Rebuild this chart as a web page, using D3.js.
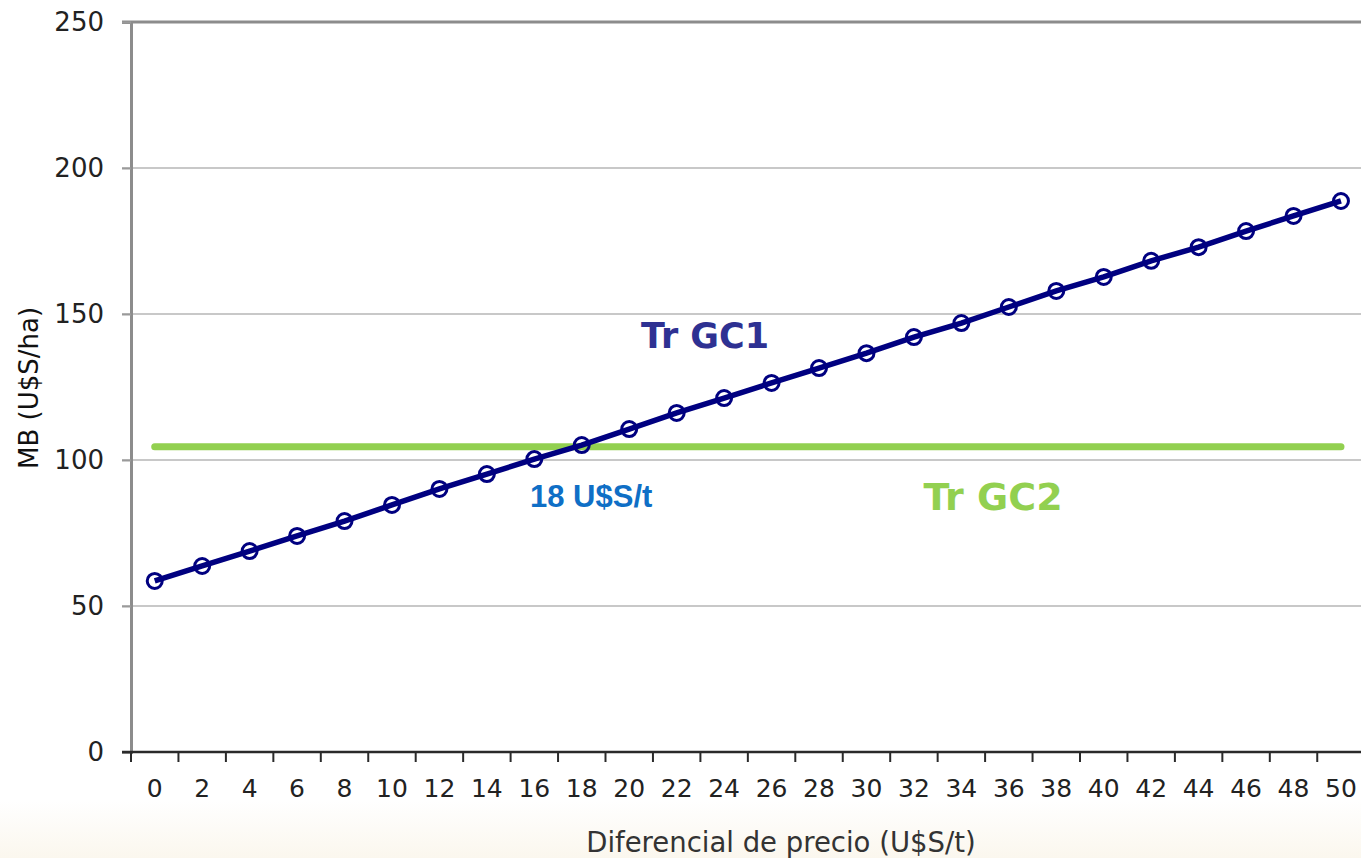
<!DOCTYPE html>
<html>
<head>
<meta charset="utf-8">
<script src="https://cdn.jsdelivr.net/npm/d3@7"></script>
<style>
  html, body { margin: 0; padding: 0; background: #ffffff; }
  svg { display: block; }
</style>
</head>
<body>
<svg id="chart" width="1361" height="858"></svg>
<script>
// Price differential categories (U$S/t)
const categories = [0, 2, 4, 6, 8, 10, 12, 14, 16, 18, 20, 22, 24, 26, 28, 30, 32, 34, 36, 38, 40, 42, 44, 46, 48, 50];
// Gross margin of Tr GC1 (U$S/ha) at each price differential
const gc1Values = [58.6, 63.7, 68.8, 74.0, 79.1, 84.6, 90.1, 95.2, 100.3, 105.1, 110.6, 116.1, 121.2, 126.4, 131.5, 136.6, 142.1, 146.9, 152.4, 157.9, 162.7, 168.2, 172.9, 178.4, 183.6, 188.7];
// Gross margin of Tr GC2 (U$S/ha), constant across differentials
const gc2Value = 104.5;
const yTicks = [0, 50, 100, 150, 200, 250];
const breakEvenLabel = "18 U$S/t";

const svg = d3.select("#chart");

// faint cream band at the foot of the image
const defs = svg.append("defs");
const grad = defs.append("linearGradient").attr("id", "foot").attr("x1", 0).attr("y1", 0).attr("x2", 0).attr("y2", 1);
grad.append("stop").attr("offset", "0%").attr("stop-color", "#ffffff");
grad.append("stop").attr("offset", "100%").attr("stop-color", "#fbf7ee");
svg.append("rect").attr("x", 0).attr("y", 800).attr("width", 1361).attr("height", 58).attr("fill", "url(#foot)");

const plotLeft = 131, plotTop = 22, plotBottom = 752, plotRight = 131 + 26 * 47.45;

const x = d3.scaleBand().domain(categories).range([plotLeft, plotRight]).padding(0);
const y = d3.scaleLinear().domain([0, 250]).range([plotBottom, plotTop]);

// horizontal gridlines
svg.append("g")
  .selectAll("line")
  .data(yTicks.filter(d => d > 0 && d < 250))
  .join("line")
  .attr("x1", plotLeft - 9).attr("x2", 1361)
  .attr("y1", d => y(d)).attr("y2", d => y(d))
  .attr("stroke", "#c8c8c8").attr("stroke-width", 2);

// top border line at 250
svg.append("line")
  .attr("x1", plotLeft - 9).attr("x2", 1361)
  .attr("y1", y(250)).attr("y2", y(250))
  .attr("stroke", "#8c8c8c").attr("stroke-width", 3);

// y axis
const yAxis = svg.append("g")
  .attr("transform", `translate(${plotLeft},0)`)
  .call(d3.axisLeft(y).tickValues(yTicks).tickSize(9).tickPadding(18));
yAxis.select(".domain").attr("stroke", "#8c8c8c").attr("stroke-width", 3);
yAxis.selectAll(".tick line").attr("stroke", "#9a9a9a").attr("stroke-width", 2);
yAxis.selectAll(".tick text")
  .attr("font-family", "DejaVu Sans, Verdana, sans-serif")
  .attr("font-size", 26).attr("fill", "#222");

// x axis: ticks at category boundaries, labels centred in each band
const xAxisG = svg.append("g").attr("transform", `translate(0,${plotBottom})`);
xAxisG.append("line")
  .attr("x1", plotLeft - 9).attr("x2", 1361)
  .attr("y1", 0).attr("y2", 0)
  .attr("stroke", "#2a2a2a").attr("stroke-width", 2.5);
xAxisG.selectAll(".btick")
  .data(categories)
  .join("line")
  .attr("class", "btick")
  .attr("x1", d => x(d)).attr("x2", d => x(d))
  .attr("y1", 0).attr("y2", 10)
  .attr("stroke", "#2a2a2a").attr("stroke-width", 2);
xAxisG.selectAll(".blabel")
  .data(categories)
  .join("text")
  .attr("class", "blabel")
  .attr("x", d => x(d) + x.bandwidth() / 2)
  .attr("y", 45)
  .attr("text-anchor", "middle")
  .attr("font-family", "DejaVu Sans, Verdana, sans-serif")
  .attr("font-size", 25).attr("fill", "#222")
  .text(d => d);

// axis titles
svg.append("text")
  .attr("x", 781).attr("y", 852)
  .attr("text-anchor", "middle")
  .attr("font-family", "DejaVu Sans, Verdana, sans-serif")
  .attr("font-size", 27.5).attr("fill", "#333")
  .text("Diferencial de precio (U$S/t)");

svg.append("text")
  .attr("transform", "translate(38,388) rotate(-90)")
  .attr("text-anchor", "middle")
  .attr("font-family", "DejaVu Sans, Verdana, sans-serif")
  .attr("font-size", 26).attr("fill", "#111")
  .text("MB (U$S/ha)");

const cx = d => x(d) + x.bandwidth() / 2;

// Tr GC2 flat line
svg.append("line")
  .attr("x1", cx(categories[0])).attr("x2", cx(categories[categories.length - 1]))
  .attr("y1", y(gc2Value)).attr("y2", y(gc2Value))
  .attr("stroke", "#92d050").attr("stroke-width", 7).attr("stroke-linecap", "round");

// Tr GC1 line with hollow circle markers
const gc1 = categories.map((c, i) => ({ c, v: gc1Values[i] }));
svg.append("path")
  .datum(gc1)
  .attr("d", d3.line().x(d => cx(d.c)).y(d => y(d.v)))
  .attr("fill", "none").attr("stroke", "#000080").attr("stroke-width", 5.5);
svg.append("g")
  .selectAll("circle")
  .data(gc1)
  .join("circle")
  .attr("cx", d => cx(d.c)).attr("cy", d => y(d.v))
  .attr("r", 7.5)
  .attr("fill", "none").attr("stroke", "#000080").attr("stroke-width", 3);

// series labels
svg.append("text")
  .attr("x", 705).attr("y", 348)
  .attr("text-anchor", "middle")
  .attr("font-family", "DejaVu Sans, Verdana, sans-serif")
  .attr("font-weight", "bold").attr("font-size", 35).attr("fill", "#2e3192")
  .text("Tr GC1");

svg.append("text")
  .attr("x", 993).attr("y", 510)
  .attr("text-anchor", "middle")
  .attr("font-family", "DejaVu Sans, Verdana, sans-serif")
  .attr("font-weight", "bold").attr("font-size", 38).attr("fill", "#92d050")
  .text("Tr GC2");

svg.append("text")
  .attr("x", 530).attr("y", 507)
  .attr("font-family", "Liberation Sans, Arial, sans-serif")
  .attr("font-weight", "bold").attr("font-size", 31).attr("fill", "#0f6fc6")
  .text(breakEvenLabel);
</script>
</body>
</html>
